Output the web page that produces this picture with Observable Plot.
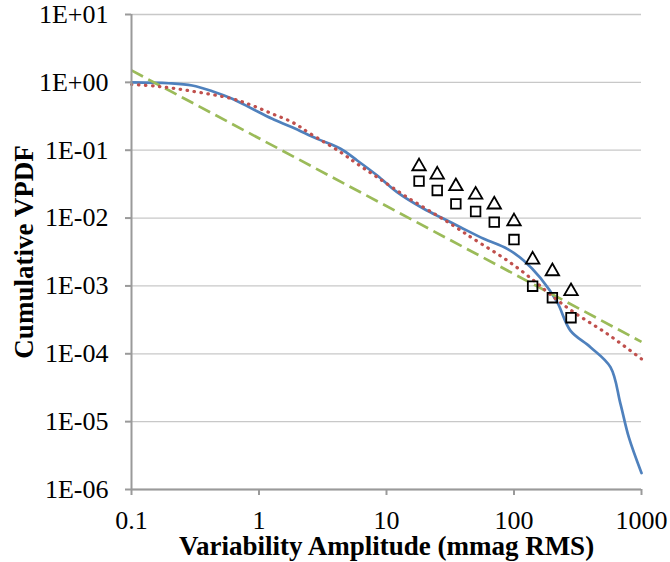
<!DOCTYPE html>
<html><head><meta charset="utf-8">
<script src="https://cdn.jsdelivr.net/npm/d3@7"></script>
<script src="https://cdn.jsdelivr.net/npm/@observablehq/plot@0.6"></script>
<style>
html,body{margin:0;padding:0;background:#fff}
#chart{width:670px;height:562px}
#chart svg, #chart svg text{font-family:"Liberation Serif","Times New Roman",serif !important}
</style>
</head><body><div id="chart"></div>
<script>
// Axis ticks and labels
const xTicks = [0.1, 1, 10, 100, 1000];
const xTickLabels = ["0.1", "1", "10", "100", "1000"];
const yTicks = [1e1, 1e0, 1e-1, 1e-2, 1e-3, 1e-4, 1e-5, 1e-6];
const yTickLabels = ["1E+01", "1E+00", "1E-01", "1E-02", "1E-03", "1E-04", "1E-05", "1E-06"];
const xTitle = "Variability Amplitude (mmag RMS)";
const yTitle = "Cumulative VPDF";

// Blue solid (observed cumulative VPDF)
const blueX = [0.1, 0.196, 0.299, 0.43, 0.617, 0.885, 1.27, 1.82, 2.86, 4.36, 5.89, 8.46, 12.1, 19.6, 28.1, 38.0, 57.9, 88.5, 119, 161, 218, 277, 398, 571, 684, 795, 1000];
const blueY = [1.0, 0.97, 0.90, 0.741, 0.573, 0.408, 0.290, 0.218, 0.147, 0.105, 0.0706, 0.0424, 0.0241, 0.0137, 0.00976, 0.00734, 0.00495, 0.00352, 0.00237, 0.00131, 0.000576, 0.00022, 0.000125, 0.0000635, 0.0000183, 0.0000059, 0.00000175];

// Red dotted (model)
const redX = [0.1, 0.164, 0.299, 0.617, 0.885, 1.27, 1.82, 2.53, 4.36, 5.89, 8.46, 14.5, 25.0, 35.9, 48.4, 88.5, 143, 205, 294, 538, 1000];
const redY = [0.93, 0.869, 0.741, 0.573, 0.456, 0.344, 0.259, 0.175, 0.0935, 0.063, 0.040, 0.0203, 0.0109, 0.0071, 0.0049, 0.00237, 0.0012, 0.00068, 0.00041, 0.000197, 0.000084];

// Green dashed (power law)
const greenX = [0.1, 1000];
const greenY = [1.5, 0.00015];

// Open markers
const markerX = [18, 25, 35, 50, 70, 100, 140, 200, 280];
const triangleY = [0.0578, 0.0436, 0.0294, 0.0221, 0.0158, 0.00894, 0.00244, 0.00164, 0.000835];
const squareY = [0.035, 0.0255, 0.0162, 0.0125, 0.0087, 0.00483, 0.00099, 0.00067, 0.00034];

const zip = (xs, ys) => xs.map((x, i) => ({x, y: ys[i]}));
const blue = zip(blueX, blueY);
const red = zip(redX, redY);
const green = zip(greenX, greenY);
const tri = zip(markerX, triangleY);
const sq = zip(markerX, squareY);

const xLab = new Map(xTicks.map((t, i) => [Math.round(Math.log10(t)), xTickLabels[i]]));
const yLab = new Map(yTicks.map((t, i) => [Math.round(Math.log10(t)), yTickLabels[i]]));

const axisGray = "#9a9a9a";
const serif = "Liberation Serif";

const chart = Plot.plot({
  width: 670, height: 562,
  marginLeft: 131, marginRight: 29, marginTop: 14, marginBottom: 73,
  x: {type: "log", domain: [0.1, 1000]},
  y: {type: "log", domain: [1e-6, 10]},
  style: "font-family: 'Liberation Serif', serif; background: #fff; color: #000;",
  marks: [
    Plot.gridY(yTicks, {stroke: "#c8c8c8", strokeOpacity: 1, strokeWidth: 1.3}),
    Plot.line(blue, {x: "x", y: "y", stroke: "#4f81bd", strokeWidth: 2.7, curve: "catmull-rom"}),
    Plot.line(green, {x: "x", y: "y", stroke: "#9bbb59", strokeWidth: 2.7, strokeDasharray: "13 6", strokeLinecap: "butt"}),
    Plot.line(red, {x: "x", y: "y", stroke: "#c0504d", strokeWidth: 3.2, strokeDasharray: "0.5 6.5", strokeLinecap: "round", curve: "catmull-rom"}),
    Plot.dot(tri, {x: "x", y: "y", symbol: "triangle", r: 5, stroke: "#000", strokeWidth: 1.8, fill: "none"}),
    Plot.dot(sq, {x: "x", y: "y", symbol: "square", r: 5.4, stroke: "#000", strokeWidth: 1.8, fill: "none"}),
    Plot.ruleX([0.1], {stroke: axisGray, strokeWidth: 2}),
    Plot.ruleY([1e-6], {stroke: axisGray, strokeWidth: 2}),
    Plot.axisY(yTicks, {tickFormat: d => yLab.get(Math.round(Math.log10(d))), fontSize: 26, fontFamily: serif, tickSize: 6, tickPadding: 17, stroke: axisGray, strokeWidth: 2, fill: "#000", label: null}),
    Plot.axisX(xTicks, {tickFormat: d => xLab.get(Math.round(Math.log10(d))), fontSize: 26, fontFamily: serif, tickSize: 6, tickPadding: 15, stroke: axisGray, strokeWidth: 2, fill: "#000", label: null}),
    Plot.text([xTitle], {frameAnchor: "bottom", dy: 57, fontSize: 27, fontFamily: serif, fontWeight: "bold", lineAnchor: "middle", textAnchor: "middle", fill: "#000"}),
    Plot.text([yTitle], {frameAnchor: "left", dx: -107, rotate: -90, fontSize: 27, fontFamily: serif, fontWeight: "bold", lineAnchor: "middle", textAnchor: "middle", fill: "#000"})
  ]
});
document.getElementById("chart").append(chart);
</script>
</body></html>
